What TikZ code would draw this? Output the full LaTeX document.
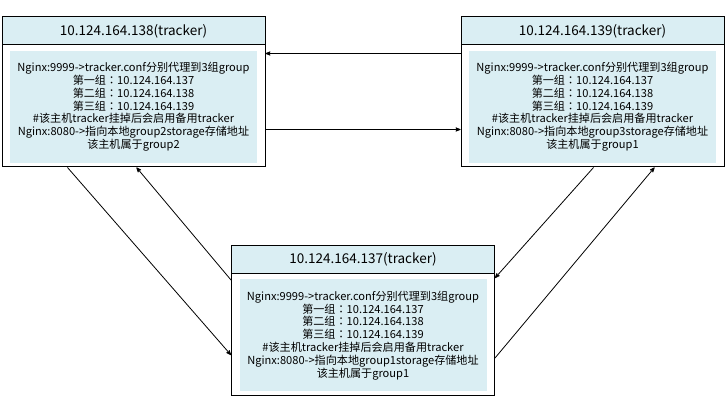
\documentclass[tikz,border=0pt]{standalone}
\usepackage{fontspec}
\setmainfont{Noto Sans CJK SC}
\newfontfamily\tcfont{Noto Sans CJK TC}
\newcommand\colonc{{\tcfont ：}}
\usetikzlibrary{arrows,positioning}
\definecolor{boxblue}{RGB}{218,238,243}

\begin{document}
\begin{tikzpicture}[x=1pt,y=1pt,>=stealth',line width=0.8pt]
  \tikzstyle{host}=[draw,line width=1pt,minimum width=263pt,minimum height=150pt,inner sep=0pt]
  \tikzstyle{head}=[draw,line width=1pt,fill=boxblue,minimum width=263pt,minimum height=28pt,inner sep=0pt,font=\fontsize{13.5}{15}\selectfont]
  \tikzstyle{body}=[fill=boxblue,minimum width=247pt,minimum height=112pt,inner sep=0pt,align=center,font=\fontsize{11.1}{12.8}\selectfont]

  \useasboundingbox (0,0) rectangle (727,407);

  \node[host] 				(L) at (133.5,315) {};
  \node[head,anchor=north] 		(Lh) at (L.north) {10.124.164.138(tracker)};
  \node[body,below=5pt of Lh] 	(Lb) {Nginx:9999->tracker.conf分别代理到3组group\\第一组\colonc 10.124.164.137\\第二组\colonc 10.124.164.138\\第三组\colonc 10.124.164.139\\\#该主机tracker挂掉后会启用备用tracker\\Nginx:8080->指向本地group2storage存储地址\\该主机属于group2};

  \node[host] 				(R) at (592.5,315) {};
  \node[head,anchor=north] 		(Rh) at (R.north) {10.124.164.139(tracker)};
  \node[body,below=5pt of Rh] 	(Rb) {Nginx:9999->tracker.conf分别代理到3组group\\第一组\colonc 10.124.164.137\\第二组\colonc 10.124.164.138\\第三组\colonc 10.124.164.139\\\#该主机tracker挂掉后会启用备用tracker\\Nginx:8080->指向本地group3storage存储地址\\该主机属于group1};

  \node[host] 				(B) at (363,86.5) {};
  \node[head,anchor=north] 		(Bh) at (B.north) {10.124.164.137(tracker)};
  \node[body,below=5pt of Bh] 	(Bb) {Nginx:9999->tracker.conf分别代理到3组group\\第一组\colonc 10.124.164.137\\第二组\colonc 10.124.164.138\\第三组\colonc 10.124.164.139\\\#该主机tracker挂掉后会启用备用tracker\\Nginx:8080->指向本地group1storage存储地址\\该主机属于group1};

  \draw[->] ([yshift=-37pt]R.north west) -- ([yshift=-37pt]L.north east);
  \draw[->] ([yshift=38pt]L.south east) -- ([yshift=38pt]R.south west);
  \draw[->] ([xshift=66pt]L.south west) -- ([yshift=-110pt]B.north west);
  \draw[->] ([yshift=-35pt]B.north west) -- ([xshift=135pt]L.south west);
  \draw[->] ([xshift=133pt]R.south west) -- ([yshift=-33pt]B.north east);
  \draw[->] ([yshift=-113pt]B.north east) -- ([xshift=194pt]R.south west);
\end{tikzpicture}
\end{document}
